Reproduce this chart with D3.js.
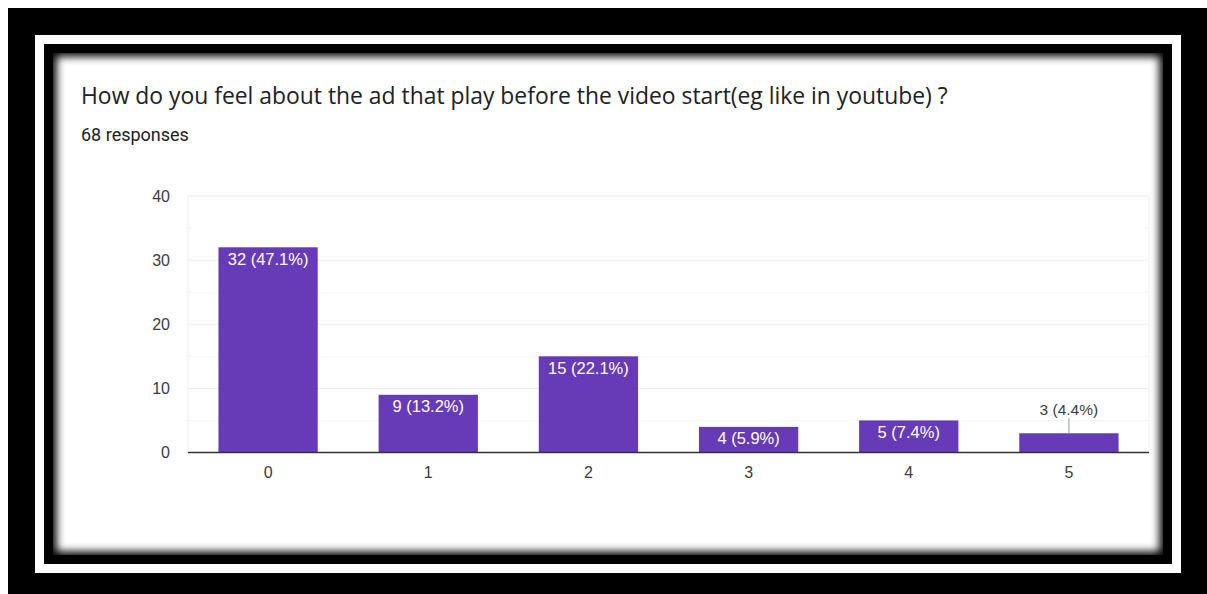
<!DOCTYPE html>
<html>
<head>
<meta charset="utf-8">
<script src="https://cdn.jsdelivr.net/npm/d3@7"></script>
<style>
  html, body { margin: 0; padding: 0; background: #fff; }
  svg { display: block; }
</style>
</head>
<body>
<svg id="chart" width="1207" height="594"></svg>
<script>
// Survey answers: rating given and number of respondents for each
const categories = ["0", "1", "2", "3", "4", "5"];
const counts = [32, 9, 15, 4, 5, 3];
const yTicks = [0, 10, 20, 30, 40];
const yMinorTicks = [5, 15, 25, 35];
const titleText = "How do you feel about the ad that play before the video start(eg like in youtube) ?";
const totalResponses = d3.sum(counts);

const svg = d3.select("#chart");
const W = 1207, H = 594;

svg.append("rect").attr("width", W).attr("height", H).attr("fill", "#fff");

// Frame: outer black border, white stripe, inner black border, card
svg.append("rect").attr("x", 8).attr("y", 8).attr("width", W - 8).attr("height", H - 8).attr("fill", "#000");
svg.append("rect").attr("x", 35).attr("y", 35).attr("width", 1146).attr("height", 538).attr("fill", "#fff");
svg.append("rect").attr("x", 44).attr("y", 44).attr("width", 1128).attr("height", 520).attr("fill", "#000");

const card = { x: 53, y: 53, w: 1110, h: 502 };
const defs = svg.append("defs");
defs.append("clipPath").attr("id", "cardClip")
  .append("rect").attr("x", card.x).attr("y", card.y).attr("width", card.w).attr("height", card.h);
defs.append("filter").attr("id", "soft").attr("x", "-5%").attr("y", "-5%").attr("width", "110%").attr("height", "110%")
  .append("feGaussianBlur").attr("stdDeviation", 4);

svg.append("rect").attr("x", card.x).attr("y", card.y).attr("width", card.w).attr("height", card.h).attr("fill", "#fff");
// inset shadow along the card edges
svg.append("g").attr("clip-path", "url(#cardClip)")
  .append("rect")
  .attr("x", card.x - 3).attr("y", card.y - 3)
  .attr("width", card.w + 6).attr("height", card.h + 6)
  .attr("fill", "none").attr("stroke", "#000").attr("stroke-width", 13)
  .attr("filter", "url(#soft)");

// Heading
const title = svg.append("text")
  .attr("x", 81).attr("y", 103.5)
  .attr("fill", "#202124")
  .style("font-family", "'Open Sans', sans-serif")
  .style("font-size", "20px")
  .text(titleText);
const tLen = title.node().getComputedTextLength();
title.style("font-size", (20 * 867 / tLen).toFixed(2) + "px");

const sub = svg.append("text")
  .attr("x", 81).attr("y", 140.5)
  .attr("fill", "#202124")
  .style("font-family", "Roboto, sans-serif")
  .style("font-size", "16px")
  .text(totalResponses + " responses");
const sLen = sub.node().getComputedTextLength();
sub.style("font-size", (16 * 108 / sLen).toFixed(2) + "px");

// Plot area
const plot = { left: 188, right: 1149, top: 196, bottom: 452.5 };
const x = d3.scaleBand()
  .domain(categories)
  .range([plot.left, plot.right])
  .paddingInner(0.38)
  .paddingOuter(0.19);
const y = d3.scaleLinear().domain([0, 40]).range([plot.bottom, plot.top]);

const chartFont = "'Liberation Sans', Arial, sans-serif";

// Grid lines
const grid = svg.append("g");
grid.selectAll("line.minor").data(yMinorTicks).join("line")
  .attr("class", "minor")
  .attr("x1", plot.left).attr("x2", plot.right)
  .attr("y1", d => y(d)).attr("y2", d => y(d))
  .attr("stroke", "#f4f4f4").attr("stroke-width", 1);
grid.selectAll("line.major").data(yTicks.filter(d => d !== 0)).join("line")
  .attr("class", "major")
  .attr("x1", plot.left).attr("x2", plot.right)
  .attr("y1", d => y(d)).attr("y2", d => y(d))
  .attr("stroke", "#ebebeb").attr("stroke-width", 1);
grid.selectAll("line.side").data([plot.left, plot.right]).join("line")
  .attr("class", "side")
  .attr("x1", d => d).attr("x2", d => d)
  .attr("y1", plot.top).attr("y2", plot.bottom)
  .attr("stroke", "#f0f0f0").attr("stroke-width", 1);

// Y axis labels
const yAxis = d3.axisLeft(y).tickValues(yTicks).tickSize(0).tickPadding(18);
const yG = svg.append("g").attr("transform", `translate(${plot.left},0)`).call(yAxis);
yG.select(".domain").remove();
yG.selectAll("text")
  .attr("fill", "#3c3c3c")
  .style("font-family", chartFont)
  .style("font-size", "16px");

// Bars
svg.append("g").selectAll("rect").data(counts).join("rect")
  .attr("x", (d, i) => x(categories[i]))
  .attr("width", x.bandwidth())
  .attr("y", d => y(d))
  .attr("height", d => y(0) - y(d))
  .attr("fill", "#673ab7");

// Baseline
svg.append("line")
  .attr("x1", plot.left).attr("x2", plot.right)
  .attr("y1", y(0)).attr("y2", y(0))
  .attr("stroke", "#333").attr("stroke-width", 1.5);

// X axis labels
const xAxis = d3.axisBottom(x).tickSize(0).tickPadding(14);
const xG = svg.append("g").attr("transform", `translate(0,${plot.bottom})`).call(xAxis);
xG.select(".domain").remove();
xG.selectAll("text")
  .attr("fill", "#3c3c3c")
  .style("font-family", chartFont)
  .style("font-size", "16px");

// Value labels
const fmt = d => `${d} (${(d / totalResponses * 100).toFixed(1)}%)`;
const labels = svg.append("g")
  .style("font-family", chartFont)
  .style("font-size", "16.5px");
counts.forEach((d, i) => {
  const cx = x(categories[i]) + x.bandwidth() / 2;
  const top = y(d);
  const inside = (y(0) - top) >= 22;
  if (inside) {
    labels.append("text")
      .attr("x", cx).attr("y", top + 17.5)
      .attr("text-anchor", "middle")
      .attr("fill", "#fff")
      .text(fmt(d));
  } else {
    labels.append("line")
      .attr("x1", cx).attr("x2", cx)
      .attr("y1", top - 15).attr("y2", top)
      .attr("stroke", "#999").attr("stroke-width", 1);
    labels.append("text")
      .attr("x", cx).attr("y", top - 18.5)
      .attr("text-anchor", "middle")
      .attr("fill", "#3c3c3c")
      .style("font-size", "15.5px")
      .text(fmt(d));
  }
});
</script>
</body>
</html>
